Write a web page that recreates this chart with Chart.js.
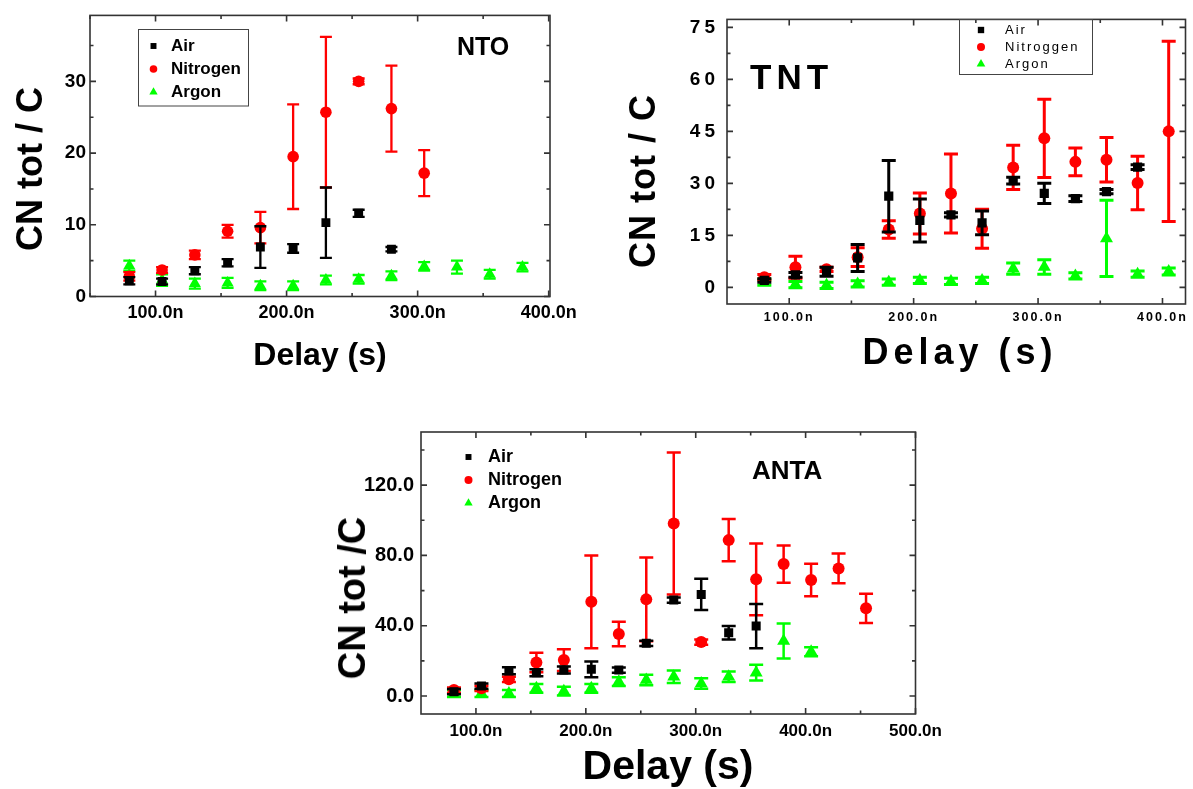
<!DOCTYPE html>
<html>
<head>
<meta charset="utf-8">
<script src="https://cdn.jsdelivr.net/npm/chart.js@4.4.0/dist/chart.umd.min.js"></script>
<style>
  html, body { margin: 0; padding: 0; background: #fff; }
  #page { position: relative; width: 1193px; height: 789px; overflow: hidden;
          font-family: "Liberation Sans", Arial, sans-serif; }
  #page canvas { position: absolute; left: 0; top: 0; }
  .t { position: absolute; font-weight: bold; color: #000; white-space: nowrap; line-height: 1; }
  .ytitle { transform: translate(-50%, -50%) rotate(-90deg); }
  .xtitle { transform: translateX(-50%); }
</style>
</head>
<body>
<div id="page">
  <canvas id="nto" width="1193" height="789"></canvas>
  <canvas id="tnt" width="1193" height="789"></canvas>
  <canvas id="anta" width="1193" height="789"></canvas>

  <div class="t ytitle" style="left:30px;top:169px;font-size:36px">CN tot / C</div>
  <div class="t xtitle" style="left:320px;top:338px;font-size:32px">Delay (s)</div>
  <div class="t" style="left:457px;top:34px;font-size:25px">NTO</div>

  <div class="t ytitle" style="left:643px;top:181px;font-size:36px;letter-spacing:1px">CN tot / C</div>
  <div class="t xtitle" style="left:960px;top:334px;font-size:36px;letter-spacing:5px">Delay (s)</div>
  <div class="t" style="left:750px;top:59px;font-size:35px;letter-spacing:5px">TNT</div>

  <div class="t ytitle" style="left:352px;top:598px;font-size:38px">CN tot /C</div>
  <div class="t xtitle" style="left:668px;top:745px;font-size:41px">Delay (s)</div>
  <div class="t" style="left:752px;top:457px;font-size:26px">ANTA</div>
</div>

<script>
// ---------- NTO ----------
const NTO_DELAY  = [80, 105, 130, 155, 180, 205, 230, 255, 280, 305, 330, 355, 380];
const NTO_AIR     = [2.2, 2.1, 3.6, 4.7, 6.9, 6.7, 10.3, 11.6, 6.6, null, null, null, null];
const NTO_AIR_ERR = [0.5, 0.4, 0.5, 0.5, 2.9, 0.6, 4.9, 0.5, 0.3, null, null, null, null];
const NTO_N2      = [2.8, 3.7, 5.8, 9.1, 9.6, 19.5, 25.7, 30.0, 26.2, 17.2, null, null, null];
const NTO_N2_ERR  = [0.6, 0.4, 0.6, 0.9, 2.2, 7.3, 10.5, 0.4, 6.0, 3.2, null, null, null];
const NTO_AR      = [4.3, 2.3, 1.8, 1.9, 1.5, 1.5, 2.3, 2.4, 2.9, 4.2, 4.1, 3.1, 4.1];
const NTO_AR_ERR  = [0.7, 0.8, 0.7, 0.7, 0.6, 0.6, 0.6, 0.6, 0.6, 0.6, 0.9, 0.6, 0.6];
const NTO_X_TICKS  = [50, 100, 150, 200, 250, 300, 350, 400];
const NTO_X_LABELS = ['', '100.0n', '', '200.0n', '', '300.0n', '', '400.0n'];
const NTO_Y_TICKS  = [0, 5, 10, 15, 20, 25, 30, 35];
const NTO_Y_LABELS = ['0', '', '10', '', '20', '', '30', ''];

// ---------- TNT ----------
const TNT_DELAY   = [80, 105, 130, 155, 180, 205, 230, 255, 280, 305, 330, 355, 380, 405];
const TNT_AIR     = [2.0, 3.6, 4.5, 8.5, 26.3, 19.3, 20.9, 18.6, 30.8, 27.1, 25.6, 27.6, 34.7, null];
const TNT_AIR_ERR = [0.5, 0.7, 1.3, 3.9, 10.3, 6.2, 0.6, 3.4, 1.0, 2.9, 0.8, 0.6, 0.7, null];
const TNT_N2      = [2.9, 5.8, 5.2, 8.7, 16.7, 21.3, 27.1, 16.9, 34.6, 43.0, 36.2, 36.8, 30.1, 45.0];
const TNT_N2_ERR  = [0.8, 3.2, 0.6, 2.7, 2.5, 5.9, 11.4, 5.6, 6.4, 11.3, 4.0, 6.4, 7.7, 26.0];
const TNT_AR      = [1.5, 0.8, 0.6, 1.0, 1.5, 2.0, 1.7, 2.0, 5.4, 5.9, 3.3, 14.1, 3.8, 4.6];
const TNT_AR_ERR  = [0.9, 0.9, 0.9, 0.9, 0.9, 0.9, 0.9, 0.9, 1.6, 2.1, 0.9, 11.0, 0.9, 1.0];
const TNT_X_TICKS  = [100, 150, 200, 250, 300, 350, 400];
const TNT_X_LABELS = ['100.0n', '', '200.0n', '', '300.0n', '', '400.0n'];
const TNT_Y_TICKS  = [0, 7.5, 15, 22.5, 30, 37.5, 45, 52.5, 60, 67.5, 75];
const TNT_Y_LABELS = ['0', '', '15', '', '30', '', '45', '', '60', '', '75'];

// ---------- ANTA ----------
const ANTA_DELAY   = [80, 105, 130, 155, 180, 205, 230, 255, 280, 305, 330, 355, 380, 405, 430, 455];
const ANTA_AIR     = [2.5, 5.7, 14.4, 13.3, 14.8, 15.2, 14.8, 30.0, 54.6, 57.8, 36.0, 39.8, null, null, null, null];
const ANTA_AIR_ERR = [1.5, 1.5, 2.0, 2.0, 2.0, 4.5, 1.5, 1.5, 1.5, 8.9, 3.8, 12.6, null, null, null, null];
const ANTA_N2      = [3.4, 4.4, 9.5, 19.1, 20.5, 53.6, 35.3, 55.0, 98.2, 30.7, 88.7, 66.4, 75.1, 66.0, 72.6, 49.9];
const ANTA_N2_ERR  = [1.5, 1.5, 1.5, 5.5, 6.2, 26.4, 7.0, 23.8, 40.4, 1.5, 12.0, 20.4, 10.6, 9.2, 8.5, 8.3];
const ANTA_AR      = [1.5, 1.5, 1.5, 4.4, 2.8, 4.4, 8.2, 9.1, 11.0, 7.2, 11.0, 13.3, 31.3, 25.2, null, null];
const ANTA_AR_ERR  = [2.0, 2.0, 2.0, 2.5, 2.5, 2.5, 2.5, 3.0, 3.5, 3.0, 3.0, 4.5, 10.0, 2.5, null, null];
const ANTA_X_TICKS  = [100, 150, 200, 250, 300, 350, 400, 450, 500];
const ANTA_X_LABELS = ['100.0n', '', '200.0n', '', '300.0n', '', '400.0n', '', '500.0n'];
const ANTA_Y_TICKS  = [0, 20, 40, 60, 80, 100, 120, 140];
const ANTA_Y_LABELS = ['0.0', '', '40.0', '', '80.0', '', '120.0', ''];

const BLACK = '#000000', RED = '#ff0000', GREEN = '#00ff00';
const FONT = '"Liberation Sans", Arial, sans-serif';
Chart.defaults.font.family = FONT;
Chart.defaults.color = '#000';

// error bars, drawn under each dataset's markers
const errorBars = {
  id: 'errorBars',
  beforeDatasetDraw(chart, args, o) {
    const ds = chart.data.datasets[args.index];
    const y = chart.scales.y, ctx = chart.ctx;
    ctx.save();
    ctx.strokeStyle = ds.borderColor;
    ctx.lineWidth = o.width;
    ctx.beginPath();
    args.meta.data.forEach((pt, i) => {
      const p = ds.data[i];
      if (!p.e) return;
      const top = y.getPixelForValue(p.y + p.e), bot = y.getPixelForValue(p.y - p.e);
      ctx.moveTo(pt.x, top); ctx.lineTo(pt.x, bot);
      ctx.moveTo(pt.x - o.cap, top); ctx.lineTo(pt.x + o.cap, top);
      ctx.moveTo(pt.x - o.cap, bot); ctx.lineTo(pt.x + o.cap, bot);
    });
    ctx.stroke();
    ctx.restore();
  }
};

// box round the plot with inward ticks on all four sides
const frame = {
  id: 'frame',
  afterDatasetsDraw(chart) {
    const { ctx, chartArea: a, scales: { x, y } } = chart;
    ctx.save();
    ctx.strokeStyle = '#333';
    ctx.lineWidth = 1.6;
    ctx.strokeRect(a.left, a.top, a.right - a.left, a.bottom - a.top);
    ctx.beginPath();
    x.ticks.forEach(t => {
      const px = x.getPixelForValue(t.value), len = t.label ? 6 : 3.5;
      ctx.moveTo(px, a.bottom); ctx.lineTo(px, a.bottom - len);
      ctx.moveTo(px, a.top); ctx.lineTo(px, a.top + len);
    });
    y.ticks.forEach(t => {
      const py = y.getPixelForValue(t.value), len = t.label ? 6 : 3.5;
      ctx.moveTo(a.left, py); ctx.lineTo(a.left + len, py);
      ctx.moveTo(a.right, py); ctx.lineTo(a.right - len, py);
    });
    ctx.stroke();
    ctx.restore();
  }
};

// legend inside the plot
const boxLegend = {
  id: 'boxLegend',
  afterDraw(chart, args, o) {
    const ctx = chart.ctx;
    ctx.save();
    if (o.box) {
      ctx.strokeStyle = '#444';
      ctx.lineWidth = 1;
      ctx.strokeRect(o.box[0], o.box[1], o.box[2], o.box[3]);
    }
    chart.data.datasets.forEach((ds, i) => {
      const y = o.y + i * o.dy;
      ctx.fillStyle = ds.backgroundColor;
      Chart.helpers.drawPoint(ctx, { pointStyle: ds.pointStyle, radius: o.radius[i], rotation: 0, borderWidth: 0 }, o.x, y);
      ctx.fillStyle = '#000';
      ctx.font = o.font;
      ctx.letterSpacing = o.spacing;
      ctx.textAlign = 'left';
      ctx.textBaseline = 'middle';
      ctx.fillText(ds.label, o.textX, y);
    });
    ctx.restore();
  }
};

function spaced(scale, px) {
  if (!px || scale._spaced) return;
  const draw = scale.drawLabels.bind(scale);
  scale.drawLabels = area => {
    scale.ctx.letterSpacing = px + 'px';
    draw(area);
    scale.ctx.letterSpacing = '0px';
  };
  scale._spaced = true;
}

function makeChart(id, c) {
  const datasets = c.series.map(s => ({
    label: s.name,
    data: c.delay.map((x, i) => ({ x, y: s.values[i], e: s.errors[i] })).filter(p => p.y != null),
    pointStyle: s.style,
    pointRadius: s.radius,
    pointHoverRadius: s.radius,
    backgroundColor: s.color,
    borderColor: s.color,
    borderWidth: 0,
    showLine: false
  }));
  return new Chart(document.getElementById(id), {
    type: 'scatter',
    data: { datasets },
    plugins: [errorBars, frame, boxLegend],
    options: {
      responsive: false,
      animation: false,
      events: [],
      layout: {
        padding: {
          left: c.plot.left - c.yWidth,
          top: c.plot.top,
          right: 1193 - c.plot.right,
          bottom: 789 - c.plot.bottom - c.xHeight
        }
      },
      plugins: {
        legend: { display: false },
        tooltip: { enabled: false },
        errorBars: c.err,
        boxLegend: c.legend
      },
      scales: {
        x: {
          type: 'linear', min: c.xMin, max: c.xMax,
          grid: { display: false, drawTicks: false },
          border: { display: false },
          afterBuildTicks: s => { s.ticks = c.xTicks.map(v => ({ value: v })); },
          afterFit: s => { s.height = c.xHeight; spaced(s, c.xSpacing); },
          ticks: {
            autoSkip: false, maxRotation: 0, padding: c.xPad,
            font: { size: c.xFont, weight: 'bold' },
            callback: (v, i) => c.xLabels[i]
          }
        },
        y: {
          type: 'linear', min: c.yMin, max: c.yMax,
          grid: { display: false, drawTicks: false },
          border: { display: false },
          afterBuildTicks: s => { s.ticks = c.yTicks.map(v => ({ value: v })); },
          afterFit: s => { s.width = c.yWidth; spaced(s, c.ySpacing); },
          ticks: {
            autoSkip: false, padding: c.yPad,
            font: { size: c.yFont, weight: 'bold' },
            callback: (v, i) => c.yLabels[i]
          }
        }
      }
    }
  });
}

makeChart('nto', {
  plot: { left: 90, top: 14, right: 550, bottom: 296.5 },
  yWidth: 85, xHeight: 40,
  xMin: 50, xMax: 401, yMin: 0, yMax: 39.2,
  xTicks: NTO_X_TICKS, xLabels: NTO_X_LABELS, yTicks: NTO_Y_TICKS, yLabels: NTO_Y_LABELS,
  xFont: 18, yFont: 19, xPad: 6, yPad: 4,
  delay: NTO_DELAY,
  series: [
    { name: 'Air', values: NTO_AIR, errors: NTO_AIR_ERR, color: BLACK, style: 'rect', radius: 6.3 },
    { name: 'Nitrogen', values: NTO_N2, errors: NTO_N2_ERR, color: RED, style: 'circle', radius: 5.8 },
    { name: 'Argon', values: NTO_AR, errors: NTO_AR_ERR, color: GREEN, style: 'triangle', radius: 7 }
  ],
  err: { width: 2.3, cap: 6 },
  legend: { box: [138.5, 29.5, 110, 76.5], x: 153.5, y: 46, dy: 23, textX: 171, radius: [4.2, 3.8, 4.8],
            font: 'bold 17px ' + FONT, spacing: '0px' }
});

makeChart('tnt', {
  plot: { left: 727, top: 12, right: 1191, bottom: 304 },
  yWidth: 100, xHeight: 40,
  xMin: 50, xMax: 418.5, yMin: -4.8, yMax: 77.3,
  xTicks: TNT_X_TICKS, xLabels: TNT_X_LABELS, yTicks: TNT_Y_TICKS, yLabels: TNT_Y_LABELS,
  xFont: 12.5, yFont: 19, xPad: 6, yPad: 8, xSpacing: 2, ySpacing: 4,
  delay: TNT_DELAY,
  series: [
    { name: 'Air', values: TNT_AIR, errors: TNT_AIR_ERR, color: BLACK, style: 'rect', radius: 6.5 },
    { name: 'Nitroggen', values: TNT_N2, errors: TNT_N2_ERR, color: RED, style: 'circle', radius: 6 },
    { name: 'Argon', values: TNT_AR, errors: TNT_AR_ERR, color: GREEN, style: 'triangle', radius: 7.5 }
  ],
  err: { width: 3, cap: 7 },
  legend: { box: [959.5, 19.5, 133, 55], x: 981, y: 30, dy: 17, textX: 1005, radius: [4.5, 4, 5],
            font: '13px ' + FONT, spacing: '2px' }
});

makeChart('anta', {
  plot: { left: 421, top: 432, right: 915.5, bottom: 714 },
  yWidth: 85, xHeight: 40,
  xMin: 50, xMax: 500, yMin: -10.2, yMax: 150.2,
  xTicks: ANTA_X_TICKS, xLabels: ANTA_X_LABELS, yTicks: ANTA_Y_TICKS, yLabels: ANTA_Y_LABELS,
  xFont: 17, yFont: 20, xPad: 7, yPad: 7,
  delay: ANTA_DELAY,
  series: [
    { name: 'Air', values: ANTA_AIR, errors: ANTA_AIR_ERR, color: BLACK, style: 'rect', radius: 6.4 },
    { name: 'Nitrogen', values: ANTA_N2, errors: ANTA_N2_ERR, color: RED, style: 'circle', radius: 6 },
    { name: 'Argon', values: ANTA_AR, errors: ANTA_AR_ERR, color: GREEN, style: 'triangle', radius: 7.5 }
  ],
  err: { width: 2.5, cap: 7 },
  legend: { box: null, x: 468.5, y: 457, dy: 23, textX: 488, radius: [4.2, 4, 4.8],
            font: 'bold 18px ' + FONT, spacing: '0px' }
});
</script>
</body>
</html>
